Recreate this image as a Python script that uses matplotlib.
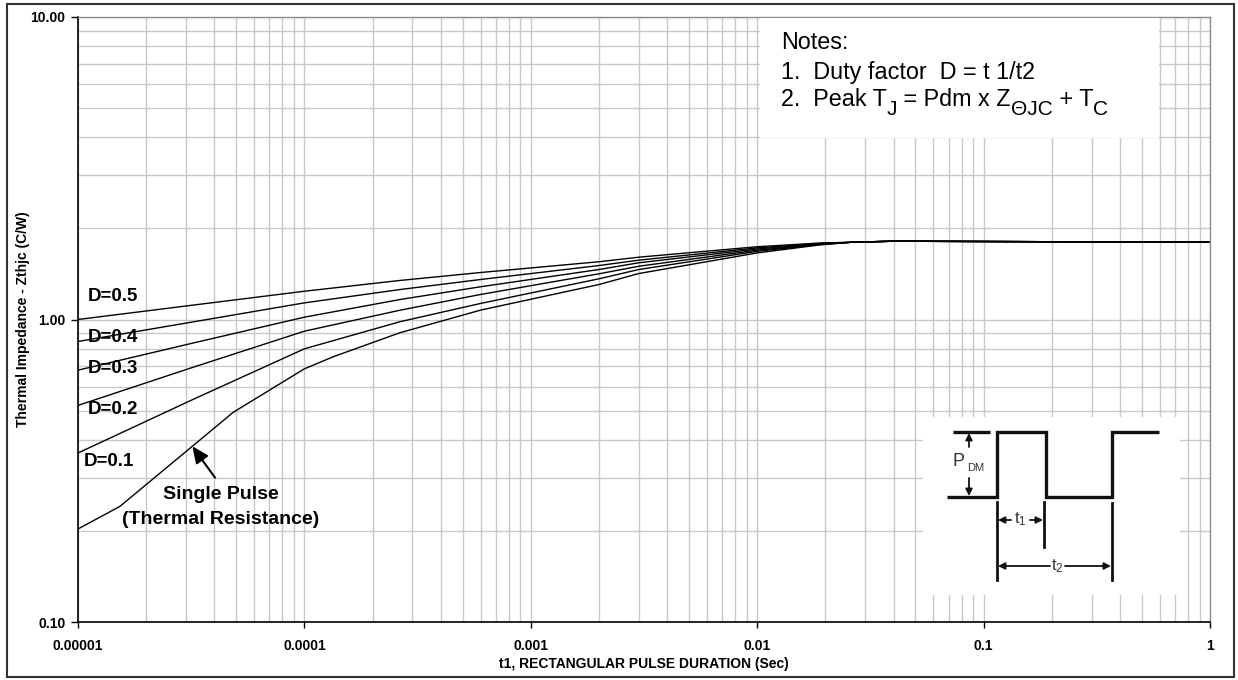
import matplotlib
matplotlib.use('Agg')
import matplotlib.pyplot as plt
from matplotlib.ticker import FixedLocator, FixedFormatter, NullFormatter, LogLocator
from matplotlib.patches import Rectangle

plt.rcParams['font.family'] = ['Liberation Sans', 'DejaVu Sans']
plt.rcParams['mathtext.fontset'] = 'custom'
plt.rcParams['mathtext.rm'] = 'Liberation Sans'
plt.rcParams['mathtext.it'] = 'Liberation Sans:italic'
plt.rcParams['mathtext.bf'] = 'Liberation Sans:bold'

# ---------------- data ----------------
t_duty = [1e-5, 3.2e-5, 1e-4, 2.64e-4, 6e-4, 2e-3, 3e-3, 1e-2, 1.9e-2, 2.6e-2, 4e-2, 1.0]
z_d05 = [1.00, 1.115, 1.24, 1.346, 1.43, 1.552, 1.607, 1.740, 1.790, 1.80, 1.815, 1.80]
z_d04 = [0.846, 0.981, 1.135, 1.256, 1.356, 1.508, 1.571, 1.725, 1.785, 1.80, 1.815, 1.80]
z_d03 = [0.680, 0.835, 1.018, 1.164, 1.283, 1.463, 1.540, 1.710, 1.780, 1.80, 1.815, 1.80]
z_d02 = [0.520, 0.694, 0.915, 1.073, 1.210, 1.416, 1.500, 1.695, 1.775, 1.80, 1.815, 1.80]
z_d01 = [0.362, 0.543, 0.800, 0.983, 1.130, 1.363, 1.463, 1.680, 1.770, 1.80, 1.815, 1.80]

t_single = [1e-5, 1.53e-5, 3.2e-5, 4.84e-5, 1e-4, 1.34e-4, 2.64e-4, 6e-4, 2e-3, 3e-3,
            1e-2, 1.9e-2, 2.6e-2, 4e-2, 1.0]
z_single = [0.203, 0.241, 0.381, 0.493, 0.687, 0.753, 0.904, 1.074, 1.305, 1.419,
            1.660, 1.765, 1.80, 1.815, 1.80]

duty_series = [z_d05, z_d04, z_d03, z_d02, z_d01]
duty_labels = ['D=0.5', 'D=0.4', 'D=0.3', 'D=0.2', 'D=0.1']

x_ticks = [1e-5, 1e-4, 1e-3, 1e-2, 1e-1, 1.0]
x_ticklabels = ['0.00001', '0.0001', '0.001', '0.01', '0.1', '1']
y_ticks = [0.1, 1.0, 10.0]
y_ticklabels = ['0.10', '1.00', '10.00']

x_title = 't1, RECTANGULAR PULSE DURATION (Sec)'
y_title = 'Thermal Impedance - Zthjc (C/W)'
note_title = 'Notes:'
note_1 = '1.  Duty factor  D = t 1/t2'
# (text, is_subscript)
note_2_parts = [('2.  Peak T', False), ('J', True), (' = Pdm x Z', False),
                ('\u0398JC', True), (' + T', False), ('C', True)]

# ---------------- figure ----------------
W, H = 1238, 680
fig = plt.figure(figsize=(W / 100, H / 100), dpi=100)
fig.patch.set_facecolor('white')

L, R, T, B = 78, 1210, 17, 622
ax = fig.add_axes([L / W, 1 - B / H, (R - L) / W, (B - T) / H])
ax.set_xscale('log')
ax.set_yscale('log')
ax.set_xlim(x_ticks[0], x_ticks[-1])
ax.set_ylim(y_ticks[0], y_ticks[-1])

ax.xaxis.set_major_locator(FixedLocator(x_ticks))
ax.xaxis.set_major_formatter(FixedFormatter(x_ticklabels))
ax.yaxis.set_major_locator(FixedLocator(y_ticks))
ax.yaxis.set_major_formatter(FixedFormatter(y_ticklabels))
ax.xaxis.set_minor_locator(LogLocator(base=10, subs=range(2, 10)))
ax.yaxis.set_minor_locator(LogLocator(base=10, subs=range(2, 10)))
ax.xaxis.set_minor_formatter(NullFormatter())
ax.yaxis.set_minor_formatter(NullFormatter())

ax.grid(True, which='both', color='#c8c8c8', lw=1.0)
ax.set_axisbelow(True)
ax.tick_params(which='minor', length=0)
ax.tick_params(axis='x', which='major', length=4, width=1, pad=8, labelsize=10, color='black')
ax.tick_params(axis='y', which='major', length=5, width=1, pad=4, labelsize=10, color='black')
for lab in ax.get_xticklabels() + ax.get_yticklabels():
    lab.set_fontweight('bold')

for side in ('top', 'right'):
    ax.spines[side].set_color('#8c8c8c')
    ax.spines[side].set_linewidth(1.0)
for side in ('left', 'bottom'):
    ax.spines[side].set_color('black')
    ax.spines[side].set_linewidth(1.2)

ax.set_xlabel(x_title, fontsize=10, fontweight='bold', labelpad=3)
ax.set_ylabel(y_title, fontsize=10, fontweight='bold', va='center')
ax.yaxis.set_label_coords((23 - L) / (R - L), 0.5)

for z in duty_series:
    ax.plot(t_duty, z, color='black', lw=1.0)
ax.plot(t_single, z_single, color='black', lw=1.0)

# duty labels
label_pos = [(1.10e-5, 1.194), (1.10e-5, 0.872), (1.10e-5, 0.689),
             (1.10e-5, 0.504), (1.055e-5, 0.339)]
for (lx, ly), txt in zip(label_pos, duty_labels):
    ax.text(lx, ly, txt, fontsize=13.5, fontweight='bold', ha='left', va='center')

ax.text(4.28e-5, 0.264, 'Single Pulse', fontsize=14, fontweight='bold', ha='center', va='center')
ax.text(4.28e-5, 0.218, '(Thermal Resistance)', fontsize=14, fontweight='bold', ha='center', va='center')
ax.annotate('', xy=(3.2e-5, 0.381), xytext=(4.03e-5, 0.30),
            arrowprops=dict(arrowstyle='-|>,head_length=1.0,head_width=0.45',
                            color='black', lw=1.5, shrinkA=0, shrinkB=0))

# ---------------- notes box (white panel above the grid) ----------------
nx0, nx1, ny0, ny1 = 760, 1159, 18, 138
ax3 = fig.add_axes([nx0 / W, 1 - ny1 / H, (nx1 - nx0) / W, (ny1 - ny0) / H])
ax3.set_xlim(nx0, nx1)
ax3.set_ylim(ny1, ny0)
ax3.set_xticks([])
ax3.set_yticks([])
for s in ax3.spines.values():
    s.set_visible(False)
ax3.set_facecolor('white')

NFS, SFS, SUB = 16.8, 15, 5.5
ax3.text(781, 43, note_title, fontsize=NFS, ha='left', va='center')
ax3.text(781, 72, note_1, fontsize=NFS, ha='left', va='center')
prev = ax3.text(781, 100, note_2_parts[0][0], fontsize=NFS, ha='left', va='center')
prev_sub = False
for txt, is_sub in note_2_parts[1:]:
    if is_sub:
        dy = -SUB
    else:
        dy = SUB if prev_sub else 0
    prev = ax3.annotate(txt, xy=(1, 0), xycoords=prev, xytext=(0, dy),
                        textcoords='offset points', fontsize=SFS if is_sub else NFS,
                        ha='left', va='bottom', annotation_clip=False)
    prev_sub = is_sub

# ---------------- pulse diagram inset ----------------
x0, x1, y0, y1 = 923, 1180, 417, 595
ax2 = fig.add_axes([x0 / W, 1 - y1 / H, (x1 - x0) / W, (y1 - y0) / H])
ax2.set_xlim(x0, x1)
ax2.set_ylim(y1, y0)
ax2.set_xticks([])
ax2.set_yticks([])
for s in ax2.spines.values():
    s.set_visible(False)
ax2.set_facecolor('white')

dc = '#111111'
ax2.plot([953, 990], [432, 432], color=dc, lw=2.4, solid_capstyle='butt')
ax2.plot([947, 997, 997, 1046, 1046, 1112, 1112, 1159],
         [497, 497, 432, 432, 497, 497, 432, 432], color=dc, lw=2.4,
         solid_capstyle='butt', solid_joinstyle='miter')
# extension lines
ax2.plot([997, 997], [502, 580], color=dc, lw=2.0)
ax2.plot([1044, 1044], [502, 547], color=dc, lw=2.0)
ax2.plot([1112, 1112], [503, 580], color=dc, lw=2.0)

arw = dict(arrowstyle='-|>,head_length=0.5,head_width=0.25', color=dc, lw=1.3,
           shrinkA=0, shrinkB=0, mutation_scale=8)
# P_DM arrows
ax2.annotate('', xy=(969, 433), xytext=(969, 447), arrowprops=arw)
ax2.annotate('', xy=(969, 496), xytext=(969, 478), arrowprops=arw)
ax2.text(958, 461, 'P', fontsize=13, color='#333333', ha='center', va='center')
ax2.text(976, 468, 'DM', fontsize=8, color='#333333', ha='center', va='center')
# t1
ax2.annotate('', xy=(998, 520), xytext=(1011, 520), arrowprops=arw)
ax2.annotate('', xy=(1043, 520), xytext=(1030, 520), arrowprops=arw)
ax2.text(1020, 519, r'$\mathrm{t}_{1}$', fontsize=12, color='#333333', ha='center', va='center')
# t2
ax2.annotate('', xy=(998, 566), xytext=(1050, 566), arrowprops=arw)
ax2.annotate('', xy=(1111, 566), xytext=(1065, 566), arrowprops=arw)
ax2.text(1057, 566, r'$\mathrm{t}_{2}$', fontsize=12, color='#333333', ha='center', va='center')

# ---------------- outer frame ----------------
fig.add_artist(Rectangle((7 / W, 1 - 677 / H), (1234 - 7) / W, (677 - 4) / H,
                         transform=fig.transFigure, fill=False, edgecolor='#333333', lw=1.5, zorder=5))

fig.savefig('out.png', dpi=100, facecolor='white')
